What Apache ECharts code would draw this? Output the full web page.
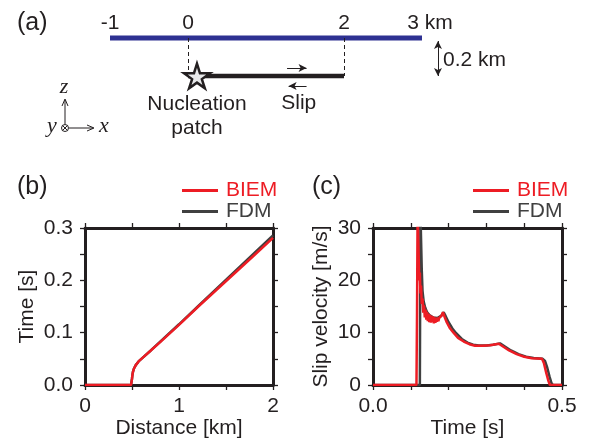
<!DOCTYPE html>
<html>
<head>
<meta charset="utf-8">
<script src="https://cdn.jsdelivr.net/npm/echarts@6/dist/echarts.min.js"></script>
<style>
  html, body { margin: 0; padding: 0; background: #fff; }
  #chart { width: 600px; height: 443px; }
</style>
</head>
<body>
<div id="chart"></div>
<script>
// (a) geometry, km
const surfaceKm = [-1, 3];
const faultKm = [0, 2];
const faultDepth = -0.2;
const starKm = 0.115;
const tickKm = [-1, 0, 2, 3];
const tickText = ['-1', '0', '2', '3 km'];

// (b) rupture time
const distKm = [0, 0.49, 0.495, 0.5, 0.505, 0.51, 0.52, 0.54, 0.57, 0.6, 0.7, 0.8, 1.0, 1.2, 1.4, 1.6, 1.8, 2.0];
const timeBIEM = [0, 0, 0.003, 0.012, 0.02, 0.025, 0.031, 0.038, 0.045, 0.05, 0.066, 0.082, 0.115, 0.149, 0.182, 0.215, 0.248, 0.281];
const timeFDM = [0, 0, 0.003, 0.012, 0.02, 0.025, 0.031, 0.038, 0.045, 0.05, 0.066, 0.083, 0.116, 0.150, 0.184, 0.218, 0.252, 0.286];

// (c) slip velocity
const tBIEM = [0, 0.115, 0.1165, 0.118, 0.1195, 0.121, 0.1225, 0.124, 0.1255, 0.127, 0.129, 0.131, 0.133, 0.135, 0.137, 0.139, 0.141, 0.143, 0.145, 0.147, 0.149, 0.151, 0.153, 0.155, 0.157, 0.159, 0.161, 0.163, 0.165, 0.167, 0.169, 0.171, 0.173, 0.175, 0.177, 0.181, 0.185, 0.189, 0.195, 0.203, 0.213, 0.225, 0.24, 0.255, 0.27, 0.29, 0.31, 0.325, 0.333, 0.345, 0.36, 0.38, 0.40, 0.42, 0.447, 0.452, 0.458, 0.464, 0.468, 0.5];
const vBIEM = [0, 0, 14, 33, 33, 24, 20, 21.5, 17.5, 19, 15.5, 16.5, 13.8, 15.2, 12.9, 14.4, 12.5, 14, 12.2, 13.6, 12, 13.4, 11.9, 13.2, 12, 13.1, 11.8, 12.9, 11.9, 12.8, 12.1, 12.9, 12.2, 12.8, 12.6, 13.2, 13.9, 13.1, 12, 10.9, 10, 9, 8.3, 7.8, 7.5, 7.5, 7.6, 7.8, 7.9, 7.3, 6.6, 5.9, 5.4, 5.1, 5.0, 4.2, 2.4, 0.8, 0, 0];
const tFDM = [0, 0.124, 0.1255, 0.1275, 0.129, 0.131, 0.134, 0.138, 0.143, 0.15, 0.16, 0.17, 0.18, 0.187, 0.192, 0.2, 0.21, 0.22, 0.235, 0.25, 0.265, 0.28, 0.3, 0.318, 0.336, 0.35, 0.365, 0.385, 0.405, 0.425, 0.449, 0.455, 0.461, 0.467, 0.472, 0.476, 0.5];
const vFDM = [0, 0, 33, 33, 22, 18, 16, 14.8, 13.9, 13.3, 12.9, 12.8, 13.2, 13.9, 13.2, 12, 10.8, 9.9, 8.8, 8.1, 7.7, 7.55, 7.55, 7.7, 7.95, 7.3, 6.6, 5.9, 5.4, 5.15, 5.0, 4.6, 3.3, 1.6, 0.4, 0, 0];

const INK = '#231f20';
const RED = '#ed1c24';
const GREY = '#404040';
const FONT = 'Liberation Sans, Arial, sans-serif';
const SERIF = 'Liberation Serif, DejaVu Serif, serif';

const pairs = (xs, ys) => xs.map((x, i) => [x, ys[i]]);
const near = (v, step) => Math.abs(v / step - Math.round(v / step)) < 1e-6;

function frameAxis(extra) {
  return Object.assign({
    type: 'value',
    axisLine: { onZero: false, lineStyle: { color: INK, width: 3 } },
    axisTick: { show: true, length: 5, lineStyle: { color: INK, width: 1.3 } },
    splitLine: { show: false },
    axisLabel: { show: false },
    nameTextStyle: { fontSize: 21, color: INK, fontFamily: FONT }
  }, extra);
}
function lbl(fmt, margin) {
  return { show: true, fontSize: 21, color: INK, fontFamily: FONT, margin: margin, formatter: fmt };
}

let chart = echarts.init(document.getElementById('chart'));

let legendBase = {
  orient: 'vertical', itemWidth: 36, itemHeight: 3, itemGap: 0, icon: 'rect',
  selectedMode: false,
  textStyle: { fontSize: 21, lineHeight: 21, fontFamily: FONT, padding: [0, 0, 0, 3] },
  data: [{ name: 'BIEM', textStyle: { color: RED } }, { name: 'FDM', textStyle: { color: GREY } }]
};

let option = {
  animation: false,
  textStyle: { fontFamily: FONT },
  title: [
    { text: '(a)', left: 12, top: 6 },
    { text: '(b)', left: 12, top: 170 },
    { text: '(c)', left: 307, top: 170 }
  ].map(t => Object.assign(t, { textStyle: { fontSize: 25, fontWeight: 'normal', color: INK, fontFamily: FONT } })),
  legend: [
    Object.assign({ left: 177, top: 175 }, legendBase),
    Object.assign({ left: 468, top: 175 }, legendBase)
  ],
  grid: [
    { left: 110, top: 38, width: 351, height: 57 },
    { left: 85, top: 228, width: 188, height: 157 },
    { left: 373, top: 228, width: 189, height: 157 }
  ],
  xAxis: [
    { gridIndex: 0, type: 'value', min: -1, max: 3.5, show: false },
    frameAxis({ gridIndex: 1, min: 0, max: 2, interval: 0.5, position: 'bottom',
      axisLabel: lbl(v => near(v, 1) ? String(v) : '', 11),
      name: 'Distance [km]', nameLocation: 'middle', nameGap: 31 }),
    frameAxis({ gridIndex: 1, min: 0, max: 2, interval: 0.5, position: 'top' }),
    frameAxis({ gridIndex: 2, min: 0, max: 0.5, interval: 0.1, position: 'bottom',
      axisLabel: lbl(v => (near(v, 0.5) ? v.toFixed(1) : ''), 11),
      name: 'Time [s]', nameLocation: 'middle', nameGap: 31 }),
    frameAxis({ gridIndex: 2, min: 0, max: 0.5, interval: 0.1, position: 'top' })
  ],
  yAxis: [
    { gridIndex: 0, type: 'value', min: -0.3, max: 0, show: false },
    frameAxis({ gridIndex: 1, min: 0, max: 0.3, interval: 0.05, position: 'left',
      axisLabel: lbl(v => near(v, 0.1) ? v.toFixed(1) : '', 12),
      name: 'Time [s]', nameLocation: 'middle', nameGap: 47 }),
    frameAxis({ gridIndex: 1, min: 0, max: 0.3, interval: 0.05, position: 'right' }),
    frameAxis({ gridIndex: 2, min: 0, max: 30, interval: 5, position: 'left',
      axisLabel: lbl(v => near(v, 10) ? String(v) : '', 12),
      name: 'Slip velocity [m/s]', nameLocation: 'middle', nameGap: 41 }),
    frameAxis({ gridIndex: 2, min: 0, max: 30, interval: 5, position: 'right' })
  ],
  series: [
    // (a) schematic
    {
      type: 'line', xAxisIndex: 0, yAxisIndex: 0, symbol: 'none', clip: false,
      data: surfaceKm.map(x => [x, 0]),
      lineStyle: { color: '#2e3192', width: 5, cap: 'butt' },
      markLine: {
        silent: true, symbol: ['none', 'none'], label: { show: false },
        lineStyle: { color: INK, width: 1, type: [4, 3] },
        data: [
          [{ coord: [faultKm[0], 0] }, { coord: [faultKm[0], faultDepth] }],
          [{ coord: [faultKm[1], 0] }, { coord: [faultKm[1], faultDepth] }]
        ]
      }
    },
    {
      type: 'line', xAxisIndex: 0, yAxisIndex: 0, symbol: 'none', clip: false,
      data: faultKm.map(x => [x, faultDepth]),
      lineStyle: { color: INK, width: 4.5, cap: 'butt' },
      markLine: {
        silent: true, symbol: ['none', 'arrow'], symbolSize: [6, 8], label: { show: false },
        lineStyle: { color: INK, width: 1, type: 'solid' },
        data: [
          [{ coord: [1.27, -0.158] }, { coord: [1.52, -0.158] }],
          [{ coord: [1.52, -0.253] }, { coord: [1.29, -0.253] }],
          [{ coord: [3.205, -0.1] }, { coord: [3.205, -0.016] }],
          [{ coord: [3.205, -0.1] }, { coord: [3.205, -0.2] }]
        ]
      }
    },
    {
      type: 'scatter', xAxisIndex: 0, yAxisIndex: 0, clip: false, silent: true,
      data: tickKm.map((x, i) => ({
        value: [x, 0],
        label: { formatter: tickText[i], offset: i === tickKm.length - 1 ? [8, 0] : [0, 0] }
      })),
      symbolSize: 0,
      itemStyle: { opacity: 1 },
      label: { show: true, position: 'top', distance: 4, fontSize: 21, color: INK, fontFamily: FONT }
    },
    {
      type: 'scatter', xAxisIndex: 0, yAxisIndex: 0, clip: false, silent: true, z: 5,
      data: [[starKm, faultDepth]],
      symbol: 'path://M50,0 L61,35 L98,35 L68,57 L79,91 L50,70 L21,91 L32,57 L2,35 L39,35 Z',
      symbolKeepAspect: true, symbolSize: 26,
      itemStyle: { color: '#e8e9ea', borderColor: INK, borderWidth: 2.5, opacity: 1 },
      label: { show: true, position: 'bottom', distance: 3, formatter: 'Nucleation\npatch',
        fontSize: 21, lineHeight: 24, color: INK, fontFamily: FONT, align: 'center' }
    },
    {
      type: 'scatter', xAxisIndex: 0, yAxisIndex: 0, clip: false, silent: true,
      data: [
        { value: [1.42, faultDepth], label: { formatter: 'Slip', position: 'bottom', distance: 17 } },
        { value: [3.27, -0.116], label: { formatter: '0.2 km', position: 'right', distance: 0 } }
      ],
      symbolSize: 0,
      itemStyle: { opacity: 1 },
      label: { show: true, fontSize: 21, color: INK, fontFamily: FONT }
    },
    // (b)
    { name: 'FDM', type: 'line', xAxisIndex: 1, yAxisIndex: 1, symbol: 'none', color: GREY,
      lineStyle: { width: 2.5 }, data: pairs(distKm, timeFDM) },
    { name: 'BIEM', type: 'line', xAxisIndex: 1, yAxisIndex: 1, symbol: 'none', color: RED,
      lineStyle: { width: 2.5 }, data: pairs(distKm, timeBIEM) },
    // (c)
    { name: 'FDM', type: 'line', xAxisIndex: 3, yAxisIndex: 3, symbol: 'none', color: GREY,
      lineStyle: { width: 2.5 }, data: pairs(tFDM, vFDM) },
    { name: 'BIEM', type: 'line', xAxisIndex: 3, yAxisIndex: 3, symbol: 'none', color: RED,
      lineStyle: { width: 2.5 }, data: pairs(tBIEM, vBIEM) }
  ],
  // coordinate-system icon
  graphic: [
    { type: 'line', shape: { x1: 65, y1: 124, x2: 65, y2: 100 }, style: { stroke: INK, lineWidth: 1 } },
    { type: 'polyline', shape: { points: [[62, 106], [65, 99], [68, 106]] }, style: { stroke: INK, lineWidth: 1, fill: null } },
    { type: 'line', shape: { x1: 69, y1: 128, x2: 93, y2: 128 }, style: { stroke: INK, lineWidth: 1 } },
    { type: 'polyline', shape: { points: [[87, 125], [94, 128], [87, 131]] }, style: { stroke: INK, lineWidth: 1, fill: null } },
    { type: 'circle', shape: { cx: 65, cy: 128, r: 3.5 }, style: { stroke: INK, lineWidth: 1, fill: '#fff' } },
    { type: 'line', shape: { x1: 62.5, y1: 125.5, x2: 67.5, y2: 130.5 }, style: { stroke: INK, lineWidth: 1 } },
    { type: 'line', shape: { x1: 67.5, y1: 125.5, x2: 62.5, y2: 130.5 }, style: { stroke: INK, lineWidth: 1 } },
    { type: 'text', x: 64, y: 87, style: { text: 'z', font: 'italic 22px ' + SERIF, fill: INK, align: 'center', verticalAlign: 'middle' } },
    { type: 'text', x: 52, y: 126, style: { text: 'y', font: 'italic 22px ' + SERIF, fill: INK, align: 'center', verticalAlign: 'middle' } },
    { type: 'text', x: 104, y: 126, style: { text: 'x', font: 'italic 22px ' + SERIF, fill: INK, align: 'center', verticalAlign: 'middle' } }
  ]
};

chart.setOption(option);
</script>
</body>
</html>
